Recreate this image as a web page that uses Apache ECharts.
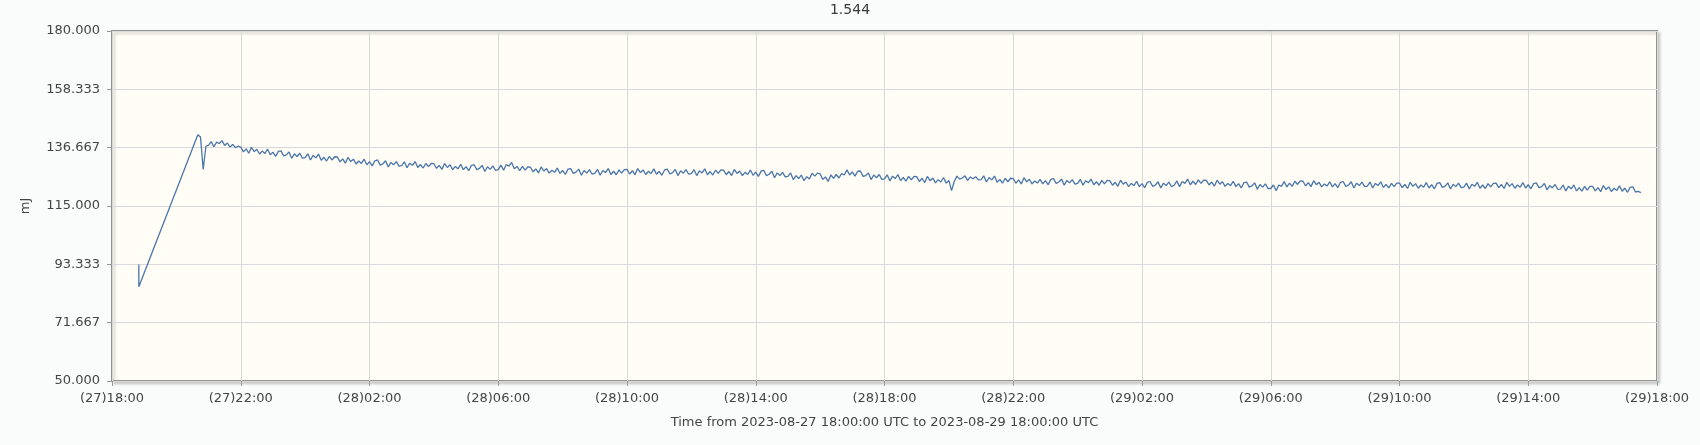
<!DOCTYPE html>
<html>
<head>
<meta charset="utf-8">
<script src="https://cdn.jsdelivr.net/npm/echarts@6/dist/echarts.min.js"></script>
<style>
html,body{margin:0;padding:0;background:#fafcfb;}
#chart{width:1700px;height:445px;}
</style>
</head>
<body>
<div id="chart"></div>
<script>
// Title and axis texts
const chartTitle = '1.544';
const yAxisName = 'mJ';
const xAxisName = 'Time from 2023-08-27 18:00:00 UTC to 2023-08-29 18:00:00 UTC';

// X tick labels (every 4 hours from 2023-08-27 18:00 UTC)
const xTickLabels = ['(27)18:00','(27)22:00','(28)02:00','(28)06:00','(28)10:00','(28)14:00',
  '(28)18:00','(28)22:00','(29)02:00','(29)06:00','(29)10:00','(29)14:00','(29)18:00'];
const yTickLabels = ['50.000','71.667','93.333','115.000','136.667','158.333','180.000'];

// Leading points: minutes after 27 18:00 UTC and values (mJ)
const headMinutes = [50, 50];
const headValues = [93.3, 85.0];

// Main series: starts 20:40 UTC on 27th, one value every 5 minutes
const bodyStartMinute = 160;
const bodyStepMinutes = 5;
const bodyValues = [
  141.5,140.6,128.6,137.2,
  137.6,138.9,137.0,138.7,138.2,139.3,137.5,138.4,136.9,137.9,136.7,137.2,
  136.9,135.1,136.2,134.6,136.8,135.2,136.1,134.3,135.4,134.5,136.1,134.0,
  135.0,133.4,135.3,135.5,133.6,134.0,135.1,132.7,134.4,133.4,134.6,132.8,
  133.0,134.4,132.1,133.8,132.9,134.3,132.0,133.1,131.7,133.4,132.1,133.3,
  133.2,131.4,132.5,130.9,133.1,131.5,132.4,130.6,131.7,130.8,132.4,130.3,
  131.5,129.9,131.8,132.1,130.2,130.7,131.8,129.5,131.2,130.3,131.5,129.8,
  130.0,131.4,129.2,130.9,130.1,131.5,129.3,130.4,129.1,130.8,129.6,130.8,
  130.7,129.0,130.1,128.6,130.8,129.3,130.3,128.5,129.7,128.8,130.5,128.5,
  129.6,128.1,130.1,130.3,128.5,129.0,130.1,127.8,129.6,128.6,129.9,128.2,
  128.5,130.2,128.3,130.4,129.8,131.2,128.8,129.7,128.1,129.7,128.3,129.5,
  129.4,127.7,128.8,127.3,129.5,128.0,128.9,127.2,128.3,127.5,129.1,127.1,
  128.2,126.7,128.7,128.9,127.1,127.6,128.7,126.4,128.2,127.2,128.5,126.8,
  127.1,128.6,126.4,128.2,127.4,128.9,126.7,127.9,126.6,128.4,127.2,128.5,
  128.6,126.9,128.1,126.6,128.9,127.4,128.4,126.7,127.9,127.1,128.8,126.8,
  127.9,126.4,128.4,128.7,126.9,127.4,128.6,126.3,128.1,127.2,128.5,126.8,
  127.0,128.5,126.3,128.1,127.3,128.8,126.6,127.8,126.5,128.3,127.1,128.4,
  128.3,126.6,127.8,126.3,128.6,127.1,128.0,126.3,127.5,126.7,128.4,126.4,
  127.6,126.0,128.0,128.2,126.3,126.8,127.9,125.5,127.3,126.3,127.5,125.8,
  126.0,127.3,124.8,126.3,125.2,126.5,124.4,125.9,125.0,127.2,126.1,127.2,
  126.9,124.9,125.8,124.1,126.5,125.3,126.7,125.4,127.0,126.5,128.4,126.5,
  127.7,126.1,127.9,128.0,126.0,126.3,127.3,124.8,126.5,125.5,126.7,124.9,
  125.1,126.6,124.3,126.1,125.2,126.7,124.4,125.6,124.2,126.0,124.7,126.0,
  125.9,124.1,125.3,123.7,126.0,124.4,125.4,123.6,124.8,123.9,125.6,123.5,
  124.5,120.7,124.1,126.1,125.0,125.4,126.2,124.5,125.8,125.1,125.9,124.7,
  124.8,126.2,123.9,125.6,124.7,126.1,123.8,124.9,123.5,125.3,124.0,125.3,
  125.2,123.5,124.7,123.2,125.5,124.0,124.9,123.2,124.3,123.5,124.9,123.2,
  124.4,122.9,124.9,125.2,123.4,123.9,125.0,122.7,124.5,123.6,124.8,123.1,
  123.4,124.9,122.7,124.4,123.6,125.0,122.9,124.0,122.7,124.5,123.2,124.5,
  124.4,122.7,123.8,122.3,124.6,123.1,123.9,122.2,123.4,122.6,124.2,122.2,
  123.3,121.8,123.8,124.1,122.3,122.8,124.0,121.7,123.5,122.6,123.9,122.2,
  122.7,124.3,122.2,124.1,123.4,125.0,122.9,124.2,123.0,124.7,123.4,124.6,
  124.5,122.8,123.9,122.4,124.6,123.1,124.0,122.3,123.4,122.6,124.2,122.2,
  123.3,121.7,123.7,123.9,122.0,122.5,123.6,121.2,123.0,122.0,123.2,121.5,
  121.5,122.8,120.7,122.8,122.3,124.1,122.1,123.5,122.3,124.2,123.0,124.3,
  124.2,122.5,123.7,122.2,124.4,122.9,123.8,122.1,123.2,122.4,124.0,122.1,
  123.3,121.8,123.8,124.1,122.3,122.8,124.0,121.7,123.5,122.6,123.9,122.2,
  122.4,123.9,121.7,123.4,122.6,124.0,121.9,123.0,121.7,123.4,122.2,123.5,
  123.5,121.8,123.0,121.5,123.8,122.3,123.3,121.6,122.8,122.0,123.7,121.7,
  122.9,121.4,123.4,123.7,121.9,122.4,123.6,121.3,123.1,122.2,123.5,121.8,
  122.0,123.5,121.3,123.1,122.3,123.8,121.6,122.8,121.5,123.3,122.1,123.4,
  123.5,121.8,123.0,121.5,123.8,122.3,123.3,121.6,122.8,122.0,123.7,121.7,
  122.9,121.4,123.3,123.6,121.8,122.2,123.4,121.0,122.6,121.7,123.0,121.2,
  121.3,122.8,120.6,122.3,121.4,122.8,120.6,121.8,120.5,122.3,120.9,122.3,
  122.3,120.6,121.8,120.3,122.6,121.1,122.1,120.4,121.6,120.8,122.5,120.5,
  121.6,120.1,121.9,122.1,120.2,120.4,120.0
];

// Build [hours since start, value] pairs
const seriesData = [];
headMinutes.forEach((m, i) => seriesData.push([m / 60, headValues[i]]));
bodyValues.forEach((v, i) => seriesData.push([(bodyStartMinute + i * bodyStepMinutes) / 60, v]));

const FONT = 'DejaVu Sans';
const TEXT = '#444';
const chart = echarts.init(document.getElementById('chart'), null, {renderer: 'canvas'});
chart.setOption({
  backgroundColor: '#fafcfb',
  animation: false,
  title: {
    text: chartTitle, left: 'center', top: 0, padding: [3, 5],
    textStyle: {fontFamily: FONT, fontSize: 14, fontWeight: 'normal', color: '#3a3a3a'}
  },
  grid: {
    left: 112, right: 43, top: 31, bottom: 64,
    show: true, backgroundColor: '#fffdf6',
    borderColor: '#929292', borderWidth: 2,
    shadowColor: 'rgba(0,0,0,0.18)', shadowBlur: 3, shadowOffsetX: 2, shadowOffsetY: 2
  },
  xAxis: {
    type: 'value', min: 0, max: 48, interval: 4,
    name: xAxisName, nameLocation: 'middle', nameGap: 35,
    nameTextStyle: {fontFamily: FONT, fontSize: 13, color: TEXT},
    axisLine: {show: false},
    axisTick: {show: true, length: 5, lineStyle: {color: '#999'}},
    axisLabel: {
      fontFamily: FONT, fontSize: 13, color: TEXT, margin: 11,
      formatter: v => xTickLabels[Math.round(v / 4)] || ''
    },
    splitLine: {show: true, lineStyle: {color: '#d9d9d9', width: 1}}
  },
  yAxis: {
    type: 'value', min: 50, max: 180, interval: 130 / 6,
    name: yAxisName, nameLocation: 'middle', nameGap: 80, nameRotate: 90,
    nameTextStyle: {fontFamily: FONT, fontSize: 13, color: TEXT},
    axisLine: {show: false},
    axisTick: {show: true, length: 5, lineStyle: {color: '#999'}},
    axisLabel: {
      fontFamily: FONT, fontSize: 13, color: TEXT, margin: 12,
      formatter: v => yTickLabels[Math.round((v - 50) / (130 / 6))] || ''
    },
    splitLine: {show: true, lineStyle: {color: '#d9d9d9', width: 1}}
  },
  series: [{
    type: 'line', data: seriesData, showSymbol: false, symbol: 'none',
    lineStyle: {color: '#4a76aa', width: 1.3},
    itemStyle: {color: '#4a76aa'}
  }]
});
</script>
</body>
</html>
